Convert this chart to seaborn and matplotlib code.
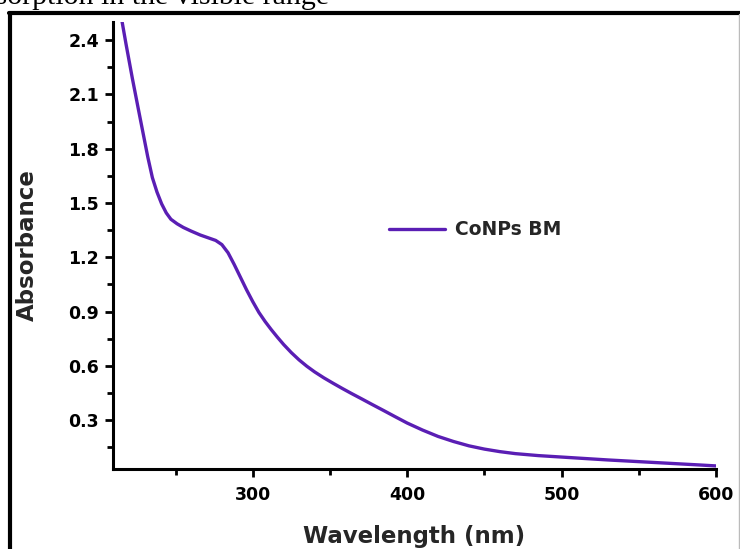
import matplotlib
matplotlib.use("Agg")
import matplotlib.pyplot as plt
from matplotlib.lines import Line2D
from matplotlib.ticker import MultipleLocator
import numpy as np
import pandas as pd
import seaborn as sns

# UV-Vis absorption spectrum of cobalt nanoparticles
wavelength_nm = [215, 218, 222, 226, 229, 232, 235, 238, 241, 244, 247, 251,
                 255, 260, 266, 271, 276, 280, 284, 288, 292, 296, 300, 304,
                 308, 312, 316, 320, 325, 330, 335, 340, 346, 352, 358, 364,
                 370, 377, 385, 392, 400, 410, 420, 430, 440, 450, 460, 470,
                 485, 500, 515, 530, 545, 560, 575, 590, 600]
absorbance = [2.52, 2.375, 2.19, 2.015, 1.885, 1.755, 1.64, 1.56, 1.495, 1.445,
              1.41, 1.385, 1.365, 1.345, 1.323, 1.308, 1.293, 1.27, 1.225,
              1.16, 1.09, 1.02, 0.955, 0.895, 0.845, 0.800, 0.758, 0.718,
              0.673, 0.633, 0.598, 0.567, 0.534, 0.504, 0.475, 0.447, 0.420,
              0.388, 0.352, 0.320, 0.284, 0.245, 0.210, 0.182, 0.158, 0.140,
              0.126, 0.115, 0.104, 0.096, 0.088, 0.080, 0.073, 0.066, 0.059,
              0.052, 0.047]
series_name = "CoNPs BM"
x_ticks = [300, 400, 500, 600]
y_ticks = [0.3, 0.6, 0.9, 1.2, 1.5, 1.8, 2.1, 2.4]

df = pd.DataFrame({"Wavelength (nm)": wavelength_nm, "Absorbance": absorbance,
                   "sample": series_name})

sns.set_theme(style="ticks")
plt.rcParams["font.family"] = ["DejaVu Sans"]

W, H = 740, 549
fig = plt.figure(figsize=(W / 100, H / 100), dpi=100)
ax = fig.add_axes([113 / W, 1 - 469 / H, (716 - 113) / W, (469 - 22) / H])

sns.lineplot(data=df, x="Wavelength (nm)", y="Absorbance", hue="sample",
             palette=["#5a1eb4"], linewidth=2.4, ax=ax, legend=True)

ax.set_xlim(209.5, 600)
ax.set_ylim(0.03, 2.5)
ax.set_xticks(x_ticks)
ax.set_yticks(y_ticks)
ax.xaxis.set_minor_locator(MultipleLocator(50))
ax.yaxis.set_minor_locator(MultipleLocator(0.15))
ax.set_yticklabels([f"{v:.1f}" for v in y_ticks])

for side in ("top", "right"):
    ax.spines[side].set_visible(False)
for side in ("left", "bottom"):
    ax.spines[side].set_linewidth(2.2)
    ax.spines[side].set_color("black")

ax.tick_params(which="major", direction="out", length=6, width=2.0,
               colors="black", labelsize=12.5)
ax.tick_params(which="minor", direction="out", length=4, width=2.0,
               colors="black")
ax.tick_params(axis="x", which="major", pad=6.5)
ax.tick_params(axis="y", which="major", pad=4)
for lbl in ax.get_xticklabels() + ax.get_yticklabels():
    lbl.set_fontweight("bold")

ax.set_xlabel("Wavelength (nm)", fontsize=16.5, fontweight="bold", labelpad=15)
ax.set_ylabel("Absorbance", fontsize=16.5, fontweight="bold", labelpad=21)

leg = ax.legend(loc="center left", bbox_to_anchor=(0.43, 0.535), frameon=False,
                handlelength=3.0, handletextpad=0.5, fontsize=13.5)
for t in leg.get_texts():
    t.set_fontweight("bold")
for h in leg.get_lines():
    h.set_linewidth(2.4)

# page border around the figure and the caption line above it
fig.add_artist(Line2D([10 / W, 10 / W], [0, 1 - 13 / H], transform=fig.transFigure,
                      color="black", linewidth=3))
fig.add_artist(Line2D([8.5 / W, 1], [1 - 13 / H, 1 - 13 / H], transform=fig.transFigure,
                      color="black", linewidth=3))
fig.add_artist(Line2D([739 / W, 739 / W], [0, 1 - 14 / H], transform=fig.transFigure,
                      color="#bbbbbb", linewidth=1))
fig.text(-41 / W, 1 - 4 / H, "Absorption in the visible range",
         family=["Liberation Serif"], fontsize=21.5, ha="left", va="baseline",
         color="black")

fig.savefig("out.png", dpi=100, facecolor="white")
